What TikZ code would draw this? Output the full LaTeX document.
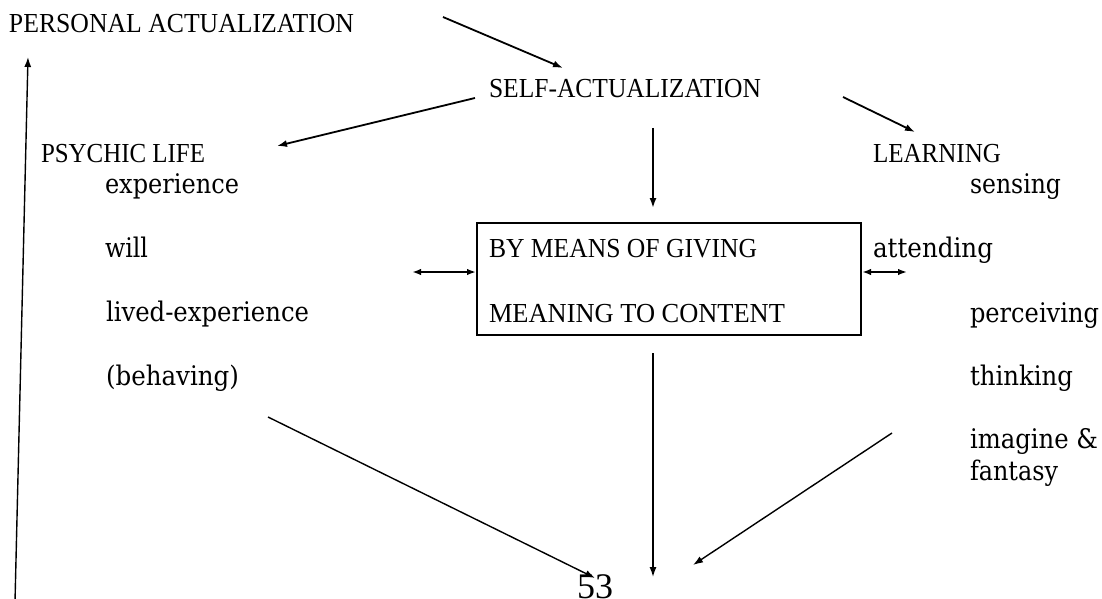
\documentclass[tikz,border=0pt]{standalone}
\usepackage{fontspec}
\usepackage{graphicx}
\usetikzlibrary{arrows.meta}
\newfontfamily\capsfont{Liberation Serif}
\newfontfamily\lowfont{DejaVu Serif}
\newcommand{\capt}[2]{\resizebox{#1pt}{\height}{\fontsize{27.5pt}{30pt}\capsfont #2}}
\newcommand{\lowt}[2]{\resizebox{#1pt}{\height}{\fontsize{27pt}{30pt}\lowfont #2}}
\tikzset{
  lbl/.style={anchor=base west, inner sep=0pt, outer sep=0pt},
  arr/.style={line width=1.8pt, -{Latex[length=10pt,width=7pt]}},
  arrthin/.style={line width=1.4pt, -{Latex[length=10pt,width=7pt]}},
  darr/.style={line width=1.8pt, {Latex[length=9pt,width=6.5pt]}-{Latex[length=9pt,width=6.5pt]}},
  mainbox/.style={draw, line width=2pt, minimum width=384pt, minimum height=112pt, inner sep=0pt}
}
\begin{document}
\begin{tikzpicture}[x=1pt,y=-1pt]
\fill[white] (0,0) rectangle (1102,599);
\useasboundingbox (0,0) rectangle (1102,599);

% caps labels
\node[lbl] (pa) at (9,33) {\capt{345}{PERSONAL ACTUALIZATION}};
\node[lbl] (sa) at (489,97) {\capt{272}{SELF-ACTUALIZATION}};
\node[lbl] (psy) at (41,162) {\capt{164}{PSYCHIC LIFE}};
\node[lbl] (learn) at (873,162) {\capt{128}{LEARNING}};

% box
\node[mainbox] (box) at (669,279) {};
\node[lbl] (by) at (489,257) {\capt{268}{BY MEANS OF GIVING}};
\node[lbl] (mean) at (489,322) {\capt{296}{MEANING TO CONTENT}};

% left column
\node[lbl] (exp) at (105,193) {\lowt{134}{experience}};
\node[lbl] (will) at (105,257) {\lowt{43}{will}};
\node[lbl] (lived) at (106,321) {\lowt{203}{lived-experience}};
\node[lbl] (beh) at (106,385) {\lowt{133}{(behaving)}};

% right column
\node[lbl] (sens) at (970,193) {\lowt{91}{sensing}};
\node[lbl] (att) at (873,257) {\lowt{120}{attending}};
\node[lbl] (perc) at (970,322) {\lowt{129}{perceiving}};
\node[lbl] (think) at (970,385) {\lowt{103}{thinking}};
\node[lbl] (imag) at (970,448) {\lowt{128}{imagine \&}};
\node[lbl] (fant) at (970,480) {\lowt{88}{fantasy}};

% page number
\node[lbl] (pg) at (577,598) {\fontsize{36pt}{40pt}\capsfont 53};

% connector end points
\coordinate (paS) at (443,17);
\coordinate (saT) at (563,68);
\coordinate (saL) at (475,98);
\coordinate (psyT) at (277,146);
\coordinate (saR) at (843,97);
\coordinate (learnT) at (915,132);
\coordinate (saB) at (653,128);
\coordinate (boxT) at (653,208);
\coordinate (lfree) at (412,272);
\coordinate (rfree) at (907,272);
\coordinate (boxB) at (653,353);
\coordinate (pgT) at (653,577);
\coordinate (behS) at (268,417);
\coordinate (pgL) at (595,578);
\coordinate (imS) at (892,433);
\coordinate (pgR) at (693,565);
\coordinate (leftB) at (15,602);
\coordinate (paT) at (28,57);

% connectors
\draw[arr] (paS) -- (saT);
\draw[arr] (saL) -- (psyT);
\draw[arr] (saR) -- (learnT);
\draw[arr] (saB) -- (boxT);
\draw[darr] (lfree) -- (box.west |- lfree);
\draw[darr] (box.east |- rfree) -- (rfree);
\draw[arrthin] (boxB) -- (pgT);
\draw[arrthin] (behS) -- (pgL);
\draw[arrthin] (imS) -- (pgR);
\draw[arrthin] (leftB) -- (paT);
\end{tikzpicture}
\end{document}
